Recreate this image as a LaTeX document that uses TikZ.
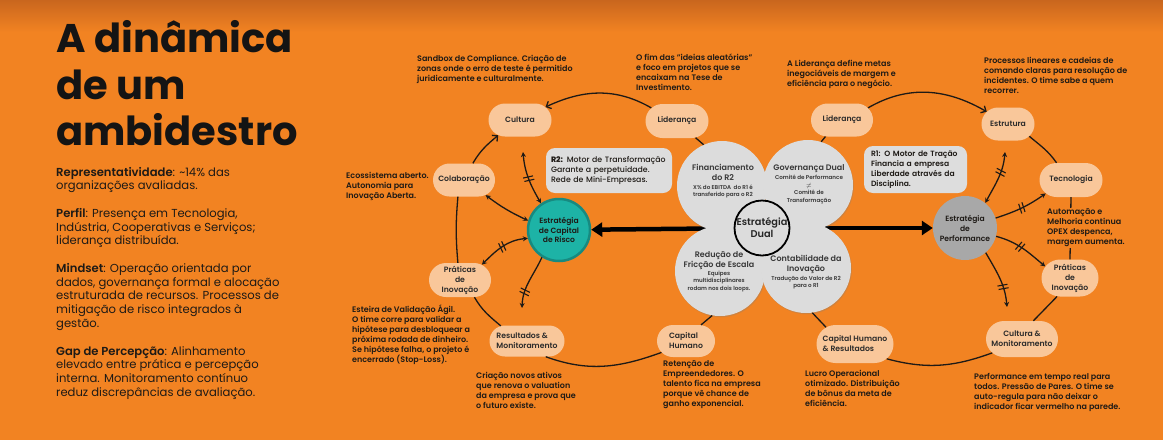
\documentclass[tikz,border=0pt]{standalone}
\usepackage{fontspec}
\setmainfont{Poppins}[BoldFont={Poppins SemiBold}]
\newfontfamily\titlefont{Poppins Bold}
\newfontfamily\medfont{Poppins Medium}
\usetikzlibrary{arrows.meta,decorations.markings,shadows,shapes.misc}

\definecolor{bgorange}{HTML}{F28322}
\definecolor{bgtop}{HTML}{C9661E}
\definecolor{pillfill}{HTML}{F9C79A}
\definecolor{ink}{HTML}{1E1A16}
\definecolor{pillink}{HTML}{2B2B2B}
\definecolor{tealfill}{HTML}{1DB3A6}
\definecolor{tealedge}{HTML}{178A80}
\definecolor{perfgray}{HTML}{A8A8A8}
\definecolor{dualgray}{HTML}{DCDCDC}
\definecolor{boxgray}{HTML}{DDDDDD}

\newcommand{\tinyline}{\bfseries\fontsize{5.6}{7}\selectfont}

\tikzset{
  titleline/.style={anchor=base west, inner sep=0pt, text=black!92, font=\titlefont\fontsize{40}{46}\selectfont},
  body/.style={anchor=west, inner sep=0pt, align=left, text=ink, font=\fontsize{11.6}{13.9}\selectfont},
  note/.style={anchor=west, inner sep=0pt, align=left, text=ink, font=\bfseries\fontsize{8}{10}\selectfont},
  pill/.style={rounded rectangle, fill=pillfill, minimum height=33pt, inner sep=2pt, text=pillink, font=\bfseries\fontsize{7.7}{10}\selectfont, align=center},
  infobox/.style={fill=boxgray, rounded corners=9pt, inner ysep=3pt, align=left, text=ink, font=\medfont\fontsize{7.8}{9.8}\selectfont},
  riskc/.style={circle, fill=tealfill, draw=tealedge, line width=2.5pt, minimum size=62pt, inner sep=0pt, align=center, text=ink, font=\bfseries\fontsize{7.6}{9.6}\selectfont},
  perfc/.style={circle, fill=perfgray, minimum size=64pt, inner sep=0pt, align=center, text=ink, font=\bfseries\fontsize{7.6}{10}\selectfont},
  dualc/.style={circle, fill=dualgray, minimum size=90pt, inner sep=0pt, drop shadow={shadow xshift=0.8pt, shadow yshift=-1.2pt, opacity=0.3}},
  dualcore/.style={circle, fill=dualgray, draw=black, line width=1.8pt, minimum size=55pt, inner sep=0pt, align=center, text=black!85, font=\bfseries\fontsize{9.8}{12}\selectfont},
  circtitle/.style={inner sep=0pt, align=center, text=black!78, font=\bfseries\fontsize{8}{10}\selectfont},
  link/.style={draw=ink, line width=1.3pt},
  loopto/.style={link, -{Straight Barb[length=4pt,width=8pt]}},
  bigarrow/.style={draw=black, line width=4.5pt, -{Triangle[length=11pt,width=14pt]}},
  breakmarks/.style={postaction={decorate, decoration={markings, mark=at position #1 with {\draw[ink, line width=1.1pt, -] (-2.4pt,-5pt) -- (-1pt,5pt) (1.2pt,-5pt) -- (2.6pt,5pt);}}}}
}

\begin{document}
\begin{tikzpicture}[x=1pt, y=-1pt, >={Stealth[length=5pt,width=5pt]}]
\useasboundingbox (0,0) rectangle (1163,440);
\fill[bgorange] (0,0) rectangle (1163,440);
\shade[top color=bgtop, bottom color=bgorange] (0,0) rectangle (1163,32);

% left column
\node[titleline] (title1) at (56,52) {A dinâmica};
\node[titleline] (title2) at (56,99) {de um};
\node[titleline] (title3) at (56,145) {ambidestro};
\node[body] (rep) at (56,180) {\textbf{Representatividade}: \textasciitilde14\% das\\organizações avaliadas.};
\node[body] (perfil) at (56,228) {\textbf{Perfil}: Presença em Tecnologia,\\Indústria, Cooperativas e Serviços;\\liderança distribuída.};
\node[body] (mind) at (56,297) {\textbf{Mindset}: Operação orientada por\\dados, governança formal e alocação\\estruturada de recursos. Processos de\\mitigação de risco integrados à\\gestão.};
\node[body] (gap) at (56,373) {\textbf{Gap de Percepção}: Alinhamento\\elevado entre prática e percepção\\interna. Monitoramento contínuo\\reduz discrepâncias de avaliação.};

% loop nodes
\node[pill, minimum width=67pt] (cultura) at (520,120) {Cultura};
\node[pill, minimum width=67pt, minimum height=34pt] (lidL) at (677,121) {Liderança};
\node[pill, minimum width=66pt] (colab) at (464,180) {Colaboração};
\node[pill, minimum width=66pt, minimum height=34pt] (pratL) at (460,280) {Práticas\\de\\Inovação};
\node[pill, minimum width=79pt, minimum height=31pt, align=left] (resul) at (527,341) {Resultados \&\\Monitoramento};
\node[pill, minimum width=62pt, minimum height=32pt, align=left] (capH) at (686,341) {Capital\\Humano};
\node[pill, minimum width=81pt, minimum height=38pt, align=left] (capHR) at (855,344) {Capital Humano\\\& Resultados};
\node[pill, minimum width=76pt, minimum height=36pt] (culM) at (1022,339) {Cultura \&\\Monitoramento};
\node[pill, minimum width=61pt, minimum height=37pt] (pratR) at (1070,278) {Práticas\\de\\Inovação};
\node[pill, minimum width=67pt, minimum height=34pt] (tecno) at (1071,180) {Tecnologia};
\node[pill, minimum width=57pt] (estru) at (1008,124) {Estrutura};
\node[pill, minimum width=66pt] (lidR) at (842,120) {Liderança};

% strategies
\node[riskc] (cdr) at (559,230) {Estratégia\\de Capital\\de Risco};
\node[perfc] (perf) at (965,228) {Estratégia\\de\\Performance};
\coordinate (dualC) at (762,228);
\draw[bigarrow] (dualC) -- (cdr);
\draw[bigarrow] (dualC) -- (perf);

\node[dualc] (finan) at (722,186) {};
\node[dualc] (gov) at (808,185) {};
\node[dualc] (redu) at (720,271) {};
\node[dualc] (conta) at (806,268) {};
\node[dualcore] (dual) at (762,228) {Estratégia\\Dual};
\node[circtitle] (finanT) at (723,181) {Financiamento\\do R2\\[-1pt]{\tinyline X\% do EBITDA\ \ do R1 é}\\[-3pt]{\tinyline transferido para o R2}};
\node[circtitle] (govT) at (809,184.5) {Governança Dual\\[-1pt]{\tinyline Comitê de Performance}\\[-2pt]{\tinyline $\neq$}\\[-3pt]{\tinyline Comitê de}\\[-2pt]{\tinyline Transformação}};
\node[circtitle] (reduT) at (719,272) {Redução de\\Fricção de Escala\\[-2pt]{\tinyline Equipes}\\[-3pt]{\tinyline multidisciplinares}\\[-2pt]{\tinyline rodam nos dois loops.}};
\node[circtitle] (contaT) at (806,272.5) {Contabilidade da\\Inovação\\[-1pt]{\tinyline Tradução do Valor de R2}\\[-3pt]{\tinyline para o R1}};

\node[infobox, minimum width=126pt, minimum height=45pt, inner xsep=5pt, text width=116pt] (r2box) at (609,170.5) {\textbf{R2:} Motor de Transformação\\Garante a perpetuidade.\\Rede de Mini-Empresas.};
\node[infobox, minimum width=103pt, minimum height=47pt, inner xsep=7pt, text width=89pt, font=\bfseries\fontsize{7.6}{10}\selectfont] (r1box) at (915.5,169.5) {R1: O Motor de Tração\\Financia a empresa\\Liberdade através da\\Disciplina.};

% loop connectors
\draw[loopto] (lidL.153) to[out=150,in=25] (cultura.27);
\draw[loopto] (colab.62) to[out=60,in=220] (cultura.215);
\draw[link] (colab.250) to[out=265,in=95] (pratL.97);
\draw[link] (pratL.310) to[out=300,in=140] (resul.150);
\draw[link] (resul.320) to[out=-20,in=200] (capH.205);
\draw[link] (capH.47) -- (redu.260);
\draw[link] (lidL.318) -- (finan.114);
\draw[loopto] (lidR.25) to[out=30,in=150] (estru.150);
\draw[link] (lidR.225) -- (gov.73);
\draw[link] (estru.330) to[out=-40,in=125] (tecno.130);
\draw[link] (tecno.south) -- (pratR.north);
\draw[link] (pratR.235) -- (culM.58);
\draw[link] (culM.205) to[out=200,in=-15] (capHR.335);
\draw[link] (capHR.150) -- (conta.278);

% strategy connectors
\coordinate (cuEnd) at (523,152);
\coordinate (reEnd) at (522,308);
\coordinate (esEnd) at (1005,152);
\coordinate (cmEnd) at (1007,307);
\draw[link, <->, breakmarks=0.5] (cdr.124) to[out=120,in=-85] (cuEnd);
\draw[link, <->] (colab.-35) to[bend right=6] (cdr.163);
\draw[link, <->, breakmarks=0.5] (cdr.195) to[out=185,in=45] (pratL.35);
\draw[link, ->, breakmarks=0.7] (cdr.238) to[out=245,in=88] (reEnd);
\draw[link, <->, breakmarks=0.62] (perf.51) to[out=62,in=-95] (esEnd);
\draw[link, ->, breakmarks=0.5] (perf.18) to[out=18,in=215] (tecno.208);
\draw[link, ->, breakmarks=0.45] (perf.-15) to[out=-15,in=140] (pratR.155);
\draw[link, ->, breakmarks=0.65] (perf.-50) to[out=-60,in=95] (cmEnd);

% annotations
\node[note] (nSandbox) at (417,69) {Sandbox de Compliance. Criação de\\zonas onde o erro de teste é permitido\\juridicamente e culturalmente.};
\node[note] (nFoco) at (636,72) {O fim das "ideias aleatórias"\\e foco em projetos que se\\encaixam na Tese de\\Investimento.};
\node[note] (nMetas) at (787,74) {A Liderança define metas\\inegociáveis de margem e\\eficiência para o negócio.};
\node[note] (nProc) at (984,75) {Processos lineares e cadeias de\\comando claras para resolução de\\incidentes. O time sabe a quem\\recorrer.};
\node[note] (nEco) at (346,186) {Ecossistema aberto.\\Autonomia para\\Inovação Aberta.};
\node[note] (nEsteira) at (352,335) {Esteira de Validação Ágil.\\O time corre para validar a\\hipótese para desbloquear a\\próxima rodada de dinheiro.\\Se hipótese falha, o projeto é\\encerrado (Stop-Loss).};
\node[note] (nAtivos) at (476,390) {Criação novos ativos\\que renova o valuation\\da empresa e prova que\\o futuro existe.};
\node[note] (nRet) at (663,385) {Retenção de\\Empreendedores. O\\talento fica na empresa\\porque vê chance de\\ganho exponencial.};
\node[note] (nLucro) at (805,388) {Lucro Operacional\\otimizado. Distribuição\\de bônus da meta de\\eficiência.};
\node[note] (nPerf) at (974,392) {Performance em tempo real para\\todos. Pressão de Pares. O time se\\auto-regula para não deixar o\\indicador ficar vermelho na parede.};
\node[note, fill=bgorange, inner sep=1pt] (nAuto) at (1046,228) {Automação e\\Melhoria continua\\OPEX despenca,\\margem aumenta.};
\end{tikzpicture}
\end{document}
